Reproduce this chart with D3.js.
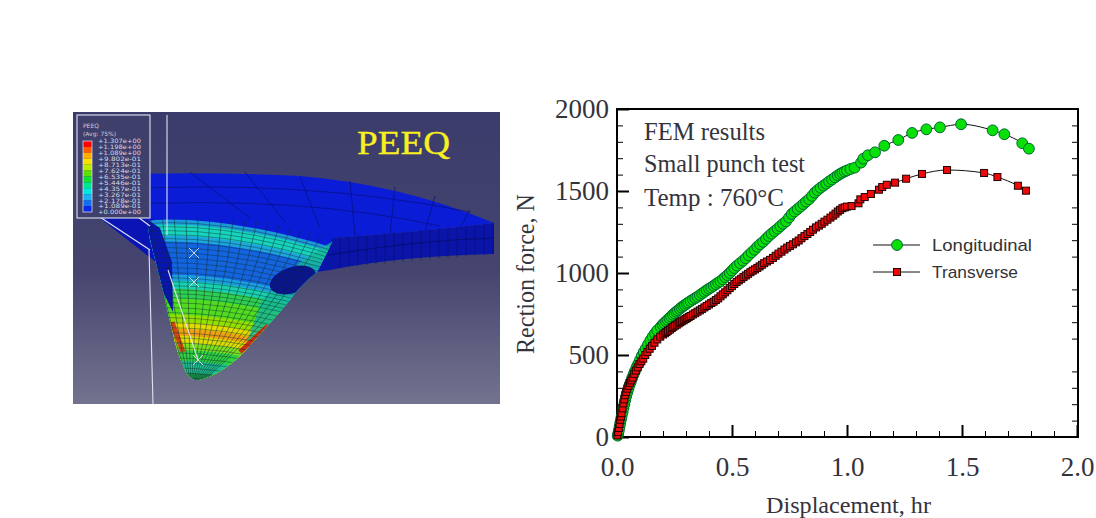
<!DOCTYPE html>
<html><head><meta charset="utf-8">
<script src="https://cdn.jsdelivr.net/npm/d3@7"></script>
<style>html,body{margin:0;padding:0;background:#fff;overflow:hidden}svg{display:block}</style>
</head><body><svg id="c" width="1096" height="518"></svg>
<script>
// ---------- chart data ----------
const longitudinalX=[.003,.005,.008,.011,.014,.017,.02,.024,.028,.032,.036,.04,.045,.05,.055,.06,.066,.072,.078,.085,.092,.1,.108,.116,.125,.135,.145,.155,.165,.175,.19,.198,.205,.213,.22,.228,.235,.243,.25,.258,.265,.273,.28,.288,.295,.303,.31,.32,.33,.34,.35,.36,.37,.38,.39,.40,.41,.42,.43,.44,.45,.46,.47,.48,.49,.50,.51,.522,.535,.548,.56,.572,.585,.598,.61,.622,.635,.648,.66,.672,.685,.698,.71,.722,.735,.748,.76,.772,.785,.798,.81,.822,.835,.848,.86,.872,.885,.898,.91,.922,.935,.948,.96,.97,.98,.99,1.0,1.015,1.033,1.061,1.071,1.091,1.122,1.162,1.223,1.283,1.345,1.404,1.496,1.633,1.684,1.762,1.791];
const longitudinalY=[8,20,40,62,85,105,125,150,175,200,225,248,272,295,318,338,360,382,402,425,445,470,495,518,540,565,590,612,632,650,672,685,695,705,715,725,735,745,755,764,772,781,790,798,805,813,820,829,838,847,855,865,875,885,895,904,912,922,932,941,950,962,975,987,1000,1015,1030,1045,1060,1075,1090,1108,1125,1142,1160,1175,1190,1208,1225,1240,1255,1270,1285,1300,1315,1338,1360,1375,1390,1405,1420,1435,1450,1470,1490,1505,1520,1533,1545,1558,1570,1583,1595,1604,1612,1619,1625,1634,1642,1673,1697,1718,1736,1776,1811,1854,1876,1888,1907,1870,1846,1791,1758];
const transverseX=[.002,.005,.008,.011,.014,.017,.02,.024,.028,.032,.036,.04,.045,.05,.056,.062,.068,.075,.082,.09,.098,.106,.114,.123,.132,.142,.152,.163,.175,.188,.2,.208,.215,.222,.23,.238,.245,.252,.26,.268,.275,.282,.29,.298,.305,.312,.32,.33,.34,.35,.36,.37,.38,.39,.4,.41,.42,.43,.44,.45,.46,.47,.48,.49,.5,.51,.52,.53,.54,.55,.56,.57,.58,.59,.6,.61,.62,.63,.64,.652,.665,.678,.69,.702,.715,.728,.74,.752,.765,.778,.79,.802,.815,.828,.84,.852,.865,.878,.89,.902,.915,.928,.94,.95,.96,.97,.98,.99,1.0,1.02,1.05,1.058,1.077,1.104,1.139,1.153,1.173,1.209,1.257,1.326,1.435,1.596,1.654,1.743,1.778];
const transverseY=[10,30,55,80,105,125,145,175,205,230,255,275,295,312,330,345,362,385,405,425,445,462,478,500,518,538,555,575,595,612,625,633,640,648,655,664,672,679,685,693,700,706,712,719,725,732,738,747,755,764,772,781,790,799,808,817,825,835,845,858,870,882,895,908,920,933,945,955,965,975,985,995,1005,1014,1022,1031,1040,1050,1060,1070,1080,1092,1105,1118,1130,1143,1155,1165,1175,1187,1198,1212,1225,1238,1250,1264,1278,1289,1300,1313,1325,1338,1350,1362,1375,1385,1395,1400,1405,1408,1425,1449,1463,1482,1508,1524,1538,1551,1575,1604,1628,1610,1585,1532,1502];
const xMajor=[0,0.5,1,1.5,2];
const xMinor=[.1,.2,.3,.4,.6,.7,.8,.9,1.1,1.2,1.3,1.4,1.6,1.7,1.8,1.9];
const yMajor=[0,500,1000,1500,2000];
const yMinor=[100,200,300,400,600,700,800,900,1100,1200,1300,1400,1600,1700,1800,1900];
const legendNames=["Longitudinal","Transverse"];
const noteLines=["FEM results","Small punch test","Temp : 760\u00b0C"];
// ---------- FEM picture legend ----------
const peeqLabels=["+1.307e+00","+1.198e+00","+1.089e+00","+9.802e-01","+8.713e-01","+7.624e-01","+6.535e-01","+5.446e-01","+4.357e-01","+3.267e-01","+2.178e-01","+1.089e-01","+0.000e+00"];
const peeqColors=["#ff0000","#ff5a00","#ffad00","#f5e000","#b8ee00","#5ce000","#10e030","#00e890","#00e8e0","#1cb0f0","#1070f0","#0a28e8"];
const bowlBands=[[217,"#1c9ad8"],[222,"#17d4bc"],[233,"#1ea6dc"],[239,"#1464de"],[272,"#1a9ee0"],[278,"#19d0b0"],[286,"#2fd050"],[296,"#52dc20"],[312,"#96e000"],[320,"#e4dc00"],[326,"#f0a010"],[333,"#dcdc00"],[340,"#7ce020"],[347,"#30d040"],[358,"#20c090"],[370,"#1fa048"]];
const meshArcs=[220,224,228,232,236,240,245,250,255,260,265,270,275,279,283,287,291,295,300,305,310,315,320,325,330,335,340,345,350,355,360,365,370,375];
const meshSpokes=[150,162,174,186,198,210,222,234,246,258,270,282,294,306,318,330];
const diskSpokes=[[190,172,250,218],[245,172,285,222],[300,177,320,228],[350,181,355,236],[395,187,390,234],[435,196,425,231],[470,210,460,228]];
const diskRings=["M105,190 Q300,178 470,212","M110,205 Q300,195 440,226"];
const crossMarks=[[194,253],[194,282],[198,360]];

const svg=d3.select("#c");
const defs=svg.append("defs");
const grad=defs.append("linearGradient").attr("id","bg").attr("x1",0).attr("x2",0).attr("y1",0).attr("y2",1);
grad.append("stop").attr("offset",0).attr("stop-color","#3c3c6c");
grad.append("stop").attr("offset",.55).attr("stop-color","#45456f");
grad.append("stop").attr("offset",1).attr("stop-color","#73738f");
const bowlPath="M147,221 Q200,214 263,222 Q305,229 333,241 L317,272 Q300,285 290,300 Q280,312 270,323 L243,353 Q228,368 213,375 Q202,380 195,380 Q188,377 185,370 Q176,350 173,333 Q167,310 163,290 L150,240 Z";
defs.append("clipPath").attr("id","bowl").append("path").attr("d",bowlPath);
defs.append("clipPath").attr("id","pic").append("rect").attr("x",73).attr("y",112).attr("width",427).attr("height",292);
const topSurface="M100,175 Q200,171 300,176 Q400,184 494,223 Q420,232 333,238 L333,262 L156,262 L100,218 Z";

// FEM image
const p=svg.append("g").attr("clip-path","url(#pic)");
p.append("rect").attr("x",73).attr("y",112).attr("width",427).attr("height",292).attr("fill","url(#bg)");
p.append("path").attr("d",topSurface).attr("fill","#0a1cd6");
p.append("path").attr("d","M333,238 Q420,232 494,223 L494,254 Q400,256 330,270 L316,272 Z").attr("fill","#0a14a8");
p.append("path").attr("d","M100,218 L156,262 L165,290 L175,225 L147,218 Z").attr("fill","#0a14b4");
p.selectAll("line.s").data(diskSpokes).join("line").attr("class","s").attr("x1",d=>d[0]).attr("y1",d=>d[1]).attr("x2",d=>d[2]).attr("y2",d=>d[3]).attr("stroke","#06107a").attr("stroke-width",.7);
p.selectAll("path.ring").data(diskRings).join("path").attr("class","ring").attr("d",d=>d).attr("fill","none").attr("stroke","#06107a").attr("stroke-width",.7);
p.append("path").attr("d","M328,255 Q420,240 494,238").attr("fill","none").attr("stroke","#050c60").attr("stroke-width",.7);
p.selectAll("line.side").data(d3.range(340,494,9)).join("line").attr("class","side").attr("x1",d=>d).attr("x2",d=>d).attr("y1",d=>238-(d-333)*.09).attr("y2",d=>268-(d-333)*.09).attr("stroke","#050c60").attr("stroke-width",.5);

const bowl=p.append("g").attr("clip-path","url(#bowl)");
const arc=y=>`M120,${y+6} Q215,${y-8} 350,${y+36}`;
bowlBands.forEach(b=>bowl.append("path").attr("d",arc(b[0])+" L350,400 L120,400 Z").attr("fill",b[1]));
bowl.append("path").attr("d","M333,241 L317,272 L270,323 L243,353 L262,300 L300,262 Z").attr("fill","#14b898").attr("opacity",.8);
bowl.append("path").attr("d","M145,218 L163,292 L173,312 L172,262 L160,228 Z").attr("fill","#0a14b0");
bowl.append("ellipse").attr("cx",293).attr("cy",280).attr("rx",24).attr("ry",13).attr("transform","rotate(-18 293 280)").attr("fill","#0a1490");
bowl.append("path").attr("d","M172,322 L183,352").attr("stroke","#d04810").attr("stroke-width",5).attr("fill","none");
bowl.append("path").attr("d","M240,352 L268,326").attr("stroke","#c83010").attr("stroke-width",5).attr("fill","none");
bowl.selectAll("path.a").data(meshArcs).join("path").attr("class","a").attr("d",arc).attr("fill","none").attr("stroke","#0c2c30").attr("stroke-width",.55).attr("opacity",.75);
bowl.selectAll("path.r").data(meshSpokes).join("path").attr("class","r").attr("d",x=>`M${x},215 Q${x+(195-x)*.25},300 ${195+(x-240)*.08},382`).attr("fill","none").attr("stroke","#0c2c30").attr("stroke-width",.6).attr("opacity",.8);

// white construction lines
const white=[[167,115,167,235],[149,250,153,404],[77,172,150,226],[77,202,150,250],[168,270,198,360]];
p.selectAll("line.w").data(white).join("line").attr("class","w").attr("x1",d=>d[0]).attr("y1",d=>d[1]).attr("x2",d=>d[2]).attr("y2",d=>d[3]).attr("stroke","#dfe3ee").attr("stroke-width",1.1);
crossMarks.forEach(c=>{[[-5,-5,5,5],[-5,5,5,-5]].forEach(o=>p.append("line").attr("x1",c[0]+o[0]).attr("y1",c[1]+o[1]).attr("x2",c[0]+o[2]).attr("y2",c[1]+o[3]).attr("stroke","#d8e0f0").attr("stroke-width",.9));});

// FEM legend
p.append("rect").attr("x",77).attr("y",115).attr("width",73).attr("height",103).attr("fill","#3f3f6c").attr("stroke","#dfe3ee").attr("stroke-width",1.1);
p.append("text").attr("x",83).attr("y",128).text("PEEQ").attr("fill","#ccd").attr("font-family","DejaVu Sans").attr("font-size",6);
p.append("text").attr("x",83).attr("y",136).text("(Avg: 75%)").attr("fill","#ccd").attr("font-family","DejaVu Sans").attr("font-size",6);
const cellY=d3.scaleBand().domain(peeqColors).range([141,212]);
p.selectAll("rect.c").data(peeqColors).join("rect").attr("class","c").attr("x",83).attr("width",9).attr("y",d=>cellY(d)).attr("height",cellY.bandwidth()).attr("fill",d=>d);
p.append("rect").attr("x",83).attr("y",141).attr("width",9).attr("height",71).attr("fill","none").attr("stroke","#e8e8f0").attr("stroke-width",.7);
p.selectAll("text.l").data(peeqLabels).join("text").attr("class","l").attr("x",98).attr("y",(d,i)=>143+i*5.95).text(d=>d).attr("fill","#d4d8e4").attr("font-family","DejaVu Sans").attr("font-size",6).attr("textLength",43).attr("lengthAdjust","spacingAndGlyphs");
p.append("text").attr("x",357).attr("y",154).text("PEEQ").attr("fill","#f8f020").attr("stroke","#f8f020").attr("stroke-width",.3).attr("font-family","Liberation Serif").attr("font-size",33).attr("textLength",93).attr("lengthAdjust","spacingAndGlyphs");

// ---------- chart ----------
const x=d3.scaleLinear().domain([0,2]).range([617,1077]);
const y=d3.scaleLinear().domain([0,2000]).range([437,109]);
const SERIF="Liberation Serif", INK="#33333c";

const axBig=g=>{g.select(".domain").remove();g.selectAll(".tick line").attr("stroke","#000").attr("stroke-width",2);};
const axSmall=g=>{g.select(".domain").remove();g.selectAll(".tick text").remove();g.selectAll(".tick line").attr("stroke","#000").attr("stroke-width",1);};
const labelStyle=g=>g.selectAll(".tick text").attr("font-family",SERIF).attr("font-size",27).attr("fill",INK);

svg.append("g").attr("transform","translate(0,437)").call(d3.axisBottom(x).tickValues(xMajor).tickSizeInner(-12).tickPadding(20).tickFormat(d3.format(".1f"))).call(axBig).call(labelStyle);
svg.append("g").attr("transform","translate(0,437)").call(d3.axisBottom(x).tickValues(xMinor).tickSizeInner(-6).tickFormat("")).call(axSmall);
svg.append("g").attr("transform","translate(617,0)").call(d3.axisLeft(y).tickValues(yMajor).tickSizeInner(-12).tickPadding(8).tickFormat(d3.format("d"))).call(axBig).call(labelStyle);
svg.append("g").attr("transform","translate(617,0)").call(d3.axisLeft(y).tickValues(yMinor).tickSizeInner(-6).tickFormat("")).call(axSmall);
svg.append("g").attr("transform","translate(1078,0)").call(d3.axisRight(y).tickValues(yMinor).tickSizeInner(-6).tickFormat("")).call(axSmall);
svg.append("rect").attr("x",617).attr("y",109).attr("width",461).attr("height",328).attr("fill","none").attr("stroke","#000").attr("stroke-width",2);

const lineGen=d3.line().x(d=>x(d[0])).y(d=>y(d[1])).curve(d3.curveMonotoneX);
const lon=longitudinalX.map((v,i)=>[v,longitudinalY[i]]);
const tra=transverseX.map((v,i)=>[v,transverseY[i]]);
svg.append("path").datum(lon).attr("d",lineGen).attr("fill","none").attr("stroke","#111").attr("stroke-width",1);
svg.append("path").datum(tra).attr("d",lineGen).attr("fill","none").attr("stroke","#111").attr("stroke-width",1);
const GREEN="#08e008", RED="#ee0a0a";
svg.append("g").selectAll("circle").data(lon).join("circle").attr("cx",d=>x(d[0])).attr("cy",d=>y(d[1])).attr("r",5.4).attr("fill",GREEN).attr("stroke","#063").attr("stroke-width",1);
svg.append("g").selectAll("rect").data(tra).join("rect").attr("x",d=>x(d[0])-3.5).attr("y",d=>y(d[1])-3.5).attr("width",7).attr("height",7).attr("fill",RED).attr("stroke","#200").attr("stroke-width",1);

// notes
const noteY=[140,172,206], noteW=[121,161,140];
svg.selectAll("text.n").data(noteLines).join("text").attr("class","n").attr("x",644).attr("y",(d,i)=>noteY[i]).text(d=>d).attr("font-family",SERIF).attr("font-size",25).attr("fill",INK).attr("textLength",(d,i)=>noteW[i]).attr("lengthAdjust","spacingAndGlyphs");

// legend
const legY=[245,272];
svg.selectAll("line.k").data(legendNames).join("line").attr("class","k").attr("x1",873).attr("x2",920).attr("y1",(d,i)=>legY[i]).attr("y2",(d,i)=>legY[i]).attr("stroke","#111").attr("stroke-width",1);
svg.append("circle").attr("cx",897).attr("cy",legY[0]).attr("r",5.4).attr("fill",GREEN).attr("stroke","#063");
svg.append("rect").attr("x",893.5).attr("y",legY[1]-3.5).attr("width",7).attr("height",7).attr("fill",RED).attr("stroke","#200");
const legW=[100,86];
svg.selectAll("text.k").data(legendNames).join("text").attr("class","k").attr("x",932).attr("y",(d,i)=>legY[i]+6).text(d=>d).attr("font-family","Liberation Sans").attr("font-size",17).attr("fill","#333").attr("textLength",(d,i)=>legW[i]).attr("lengthAdjust","spacingAndGlyphs");

// axis titles
svg.append("text").attr("x",766).attr("y",513).text("Displacement, hr").attr("font-family",SERIF).attr("font-size",24).attr("fill",INK).attr("textLength",165).attr("lengthAdjust","spacingAndGlyphs");
svg.append("text").attr("transform","translate(534,354) rotate(-90)").text("Rection force, N").attr("font-family",SERIF).attr("font-size",25).attr("fill",INK).attr("textLength",160).attr("lengthAdjust","spacingAndGlyphs");
</script></body></html>
